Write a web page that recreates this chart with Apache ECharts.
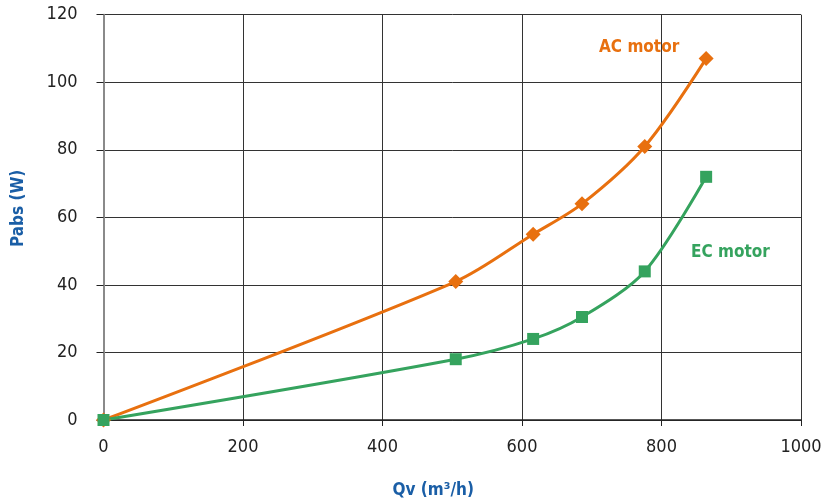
<!DOCTYPE html>
<html><head><meta charset="utf-8">
<script src="https://cdn.jsdelivr.net/npm/echarts@6/dist/echarts.min.js"></script>
<style>html,body{margin:0;padding:0;background:#fff}#c{width:827px;height:504px}</style>
</head><body><div id="c"></div>
<script>
const qv = [0, 505, 616, 686, 776, 864];
const acPower = [0, 41, 55, 64, 81, 107];
const ecPower = [0, 18, 24, 30.5, 44, 72];
const xTicks = [0, 200, 400, 600, 800, 1000];
const yTicks = [0, 20, 40, 60, 80, 100, 120];
const seriesNames = ['AC motor', 'EC motor'];

const FONT = "'Liberation Sans Narrow', 'DejaVu Sans Condensed', sans-serif";
const chart = echarts.init(document.getElementById('c'), null, {renderer: 'canvas'});
chart.setOption({
  animation: false,
  backgroundColor: '#fff',
  grid: {left: 103.5, right: 26, top: 14.7, bottom: 84, containLabel: false, outerBoundsMode: 'none'},
  xAxis: {
    type: 'value', min: xTicks[0], max: xTicks[xTicks.length - 1], interval: 200,
    name: 'Qv (m³/h)', nameLocation: 'middle', nameGap: 62,
    nameTextStyle: {color: '#1a5ea6', fontFamily: FONT, fontWeight: 'bold', fontSize: 17, padding: [0, 38, 0, 0]},
    axisLine: {lineStyle: {color: '#222', width: 1.5}},
    axisTick: {show: true, length: 6, lineStyle: {color: '#222'}},
    axisLabel: {color: '#222', fontFamily: FONT, fontSize: 18, margin: 18, formatter: v => String(v)},
    splitLine: {show: true, lineStyle: {color: '#333', width: 1}}
  },
  yAxis: {
    type: 'value', min: yTicks[0], max: yTicks[yTicks.length - 1], interval: 20,
    name: 'Pabs (W)', nameLocation: 'middle', nameGap: 76,
    nameTextStyle: {color: '#1a5ea6', fontFamily: FONT, fontWeight: 'bold', fontSize: 17, padding: [0, 0, 0, 18]},
    axisLine: {show: true, lineStyle: {color: '#8a8a8a', width: 2}},
    axisTick: {show: true, length: 7, lineStyle: {color: '#222'}},
    axisLabel: {color: '#222', fontFamily: FONT, fontSize: 18, margin: 26, formatter: v => String(v)},
    splitLine: {show: true, lineStyle: {color: '#333', width: 1}}
  },
  series: [
    {
      name: seriesNames[0], type: 'line', smooth: 0.3,
      data: qv.map((x, i) => [x, acPower[i]]),
      symbol: 'diamond', symbolSize: 15,
      lineStyle: {color: '#e8700f', width: 3},
      itemStyle: {color: '#e8700f'}
    },
    {
      name: seriesNames[1], type: 'line', smooth: 0.3,
      data: qv.map((x, i) => [x, ecPower[i]]),
      symbol: 'rect', symbolSize: 12,
      lineStyle: {color: '#35a35e', width: 3},
      itemStyle: {color: '#35a35e'}
    }
  ],
  graphic: [
    {type: 'text', left: 599, top: 39, style: {text: seriesNames[0], fill: '#e8700f', font: 'bold 17px ' + FONT}},
    {type: 'text', left: 691, top: 244, style: {text: seriesNames[1], fill: '#35a35e', font: 'bold 17px ' + FONT}}
  ]
});
</script></body></html>
